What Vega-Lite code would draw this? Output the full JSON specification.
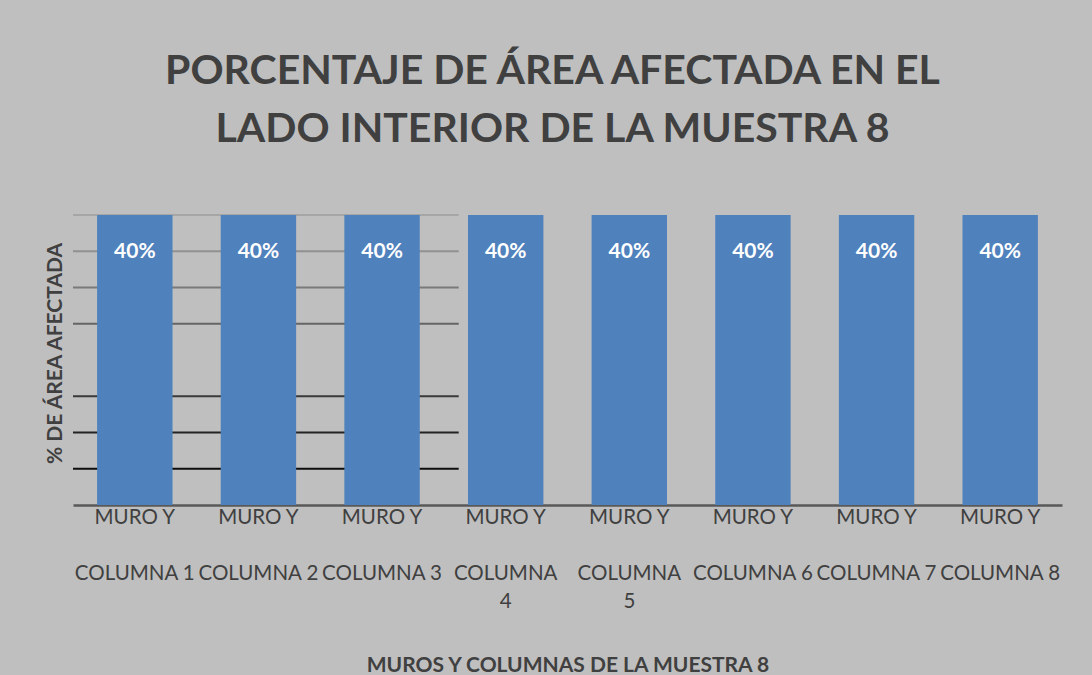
{
  "$schema": "https://vega.github.io/schema/vega-lite/v6.json",
  "autosize": {"type": "none"},
  "width": 989,
  "height": 290,
  "padding": {"left": 73, "top": 215, "right": 30, "bottom": 170},
  "background": "#bfbfbf",
  "config": {
    "view": {"stroke": null},
    "font": "Lato"
  },
  "title": {
    "text": ["PORCENTAJE DE ÁREA AFECTADA EN EL", "LADO INTERIOR DE LA MUESTRA 8"],
    "fontSize": 41,
    "fontWeight": "bold",
    "color": "#404040",
    "lineHeight": 58,
    "anchor": "middle",
    "dx": -15,
    "offset": 63,
    "font": "Lato"
  },
  "datasets": {
    "bars": [
      {"cat": "MURO Y|\u200b|COLUMNA 1", "pct": 0.4},
      {"cat": "MURO Y|\u200b|COLUMNA 2", "pct": 0.4},
      {"cat": "MURO Y|\u200b|COLUMNA 3", "pct": 0.4},
      {"cat": "MURO Y|\u200b|COLUMNA|4", "pct": 0.4},
      {"cat": "MURO Y|\u200b|COLUMNA|5", "pct": 0.4},
      {"cat": "MURO Y|\u200b|COLUMNA 6", "pct": 0.4},
      {"cat": "MURO Y|\u200b|COLUMNA 7", "pct": 0.4},
      {"cat": "MURO Y|\u200b|COLUMNA 8", "pct": 0.4}
    ],
    "grid": [
      {"g": 0.05}, {"g": 0.10}, {"g": 0.15}, {"g": 0.25}, {"g": 0.30}, {"g": 0.35}, {"g": 0.40}
    ]
  },
  "layer": [
    {
      "data": {"name": "grid"},
      "mark": {"type": "rule", "strokeWidth": 2},
      "encoding": {
        "x": {"datum": 0, "type": "quantitative", "scale": {"domain": [0, 8], "nice": false, "zero": false}, "axis": null},
        "x2": {"datum": 3.12},
        "y": {
          "field": "g", "type": "quantitative",
          "scale": {"domain": [0, 0.4], "nice": false},
          "axis": {
            "title": "% DE ÁREA AFECTADA",
            "titleFontSize": 21,
            "titleFontWeight": "bold",
            "titleColor": "#404040",
            "titlePadding": 8,
            "titleY": 138,
            "labels": false,
            "ticks": false,
            "domain": false,
            "grid": false
          }
        },
        "color": {"field": "g", "type": "quantitative", "scale": {"domain": [0.05, 0.4], "range": ["#0d0d0d", "#a6a6a6"], "interpolate": "rgb"}, "legend": null}
      }
    },
    {
      "data": {"name": "bars"},
      "layer": [
        {
          "mark": {"type": "bar", "color": "#4f81bd"},
          "encoding": {
            "x": {
              "field": "cat", "type": "nominal", "sort": null,
              "scale": {"paddingInner": 0.39, "paddingOuter": 0.195},
              "axis": {
                "title": "MUROS Y COLUMNAS DE LA MUESTRA 8",
                "titleFontSize": 21,
                "titleFontWeight": "bold",
                "titleColor": "#404040",
                "titlePadding": 43,
                "labelExpr": "split(datum.label, '|')",
                "labelFontSize": 20.5,
                "labelColor": "#404040",
                "labelLineHeight": 28,
                "labelAngle": 0,
                "labelPadding": 2,
                "labelLimit": 0,
                "labelOverlap": false,
                "ticks": false,
                "domainColor": "#595959",
                "domainWidth": 2.5,
                "grid": false
              }
            },
            "y": {
              "field": "pct", "type": "quantitative",
              "scale": {"domain": [0, 0.4], "nice": false},
              "axis": {
                "title": "% DE ÁREA AFECTADA",
                "titleFontSize": 21,
                "titleFontWeight": "bold",
                "titleColor": "#404040",
                "titlePadding": 8,
                "titleY": 138,
                "labels": false,
                "ticks": false,
                "domain": false,
                "grid": false
              }
            }
          }
        },
        {
          "mark": {"type": "text", "color": "#ffffff", "fontWeight": "bold", "fontSize": 21, "baseline": "middle", "dy": 37},
          "encoding": {
            "x": {"field": "cat", "type": "nominal", "sort": null},
            "y": {"field": "pct", "type": "quantitative"},
            "text": {"field": "pct", "type": "quantitative", "format": ".0%"}
          }
        }
      ]
    }
  ],
  "resolve": {"scale": {"x": "independent"}}
}
